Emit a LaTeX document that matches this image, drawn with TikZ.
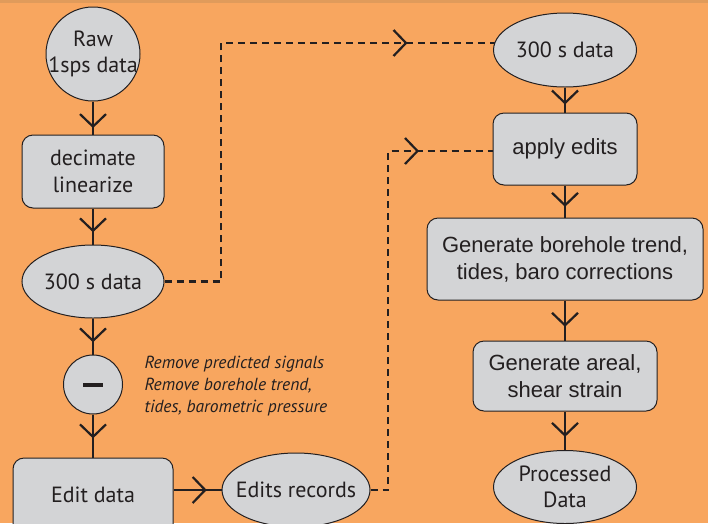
\documentclass[tikz,border=0pt]{standalone}
\usepackage{fontspec}
\setmainfont{PT Sans}
\newfontfamily\arialf{Liberation Sans}
\usetikzlibrary{decorations.markings,shapes.geometric,calc}
\pgfdeclarelayer{bglayer}
\pgfdeclarelayer{background}
\pgfsetlayers{bglayer,background,main}
\definecolor{bgorange}{HTML}{F8A65F}
\definecolor{stripe}{HTML}{E09B5B}
\definecolor{nodegray}{HTML}{D3D4D6}
\definecolor{ink}{HTML}{231F20}
\newcommand\chev{\pgfsetlinewidth{2.2pt}\pgfsetdash{}{0pt}\pgfsetstrokecolor{ink}\pgfpathmoveto{\pgfpoint{-12.5pt}{-13pt}}\pgfpathlineto{\pgfpointorigin}\pgfpathlineto{\pgfpoint{-12.5pt}{13pt}}\pgfusepath{stroke}}
\begin{document}
\begin{tikzpicture}[x=1pt,y=-1pt,
  box/.style={draw=ink,fill=nodegray,line width=1pt,rounded corners=11pt,inner sep=0pt,align=center,text=ink},
  oval/.style={draw=ink,fill=nodegray,line width=1pt,ellipse,inner xsep=-12pt,inner ysep=0pt,align=center,text=ink},
  disc/.style={draw=ink,fill=nodegray,line width=1pt,circle,inner xsep=-8pt,inner ysep=0pt,align=center,text=ink},
  myr/.style={font=\fontsize{22}{26.5}\selectfont},
  ari/.style={font=\arialf\fontsize{22}{27}\selectfont},
  flow/.style={draw=ink,line width=2.2pt,postaction={decorate,decoration={markings,mark=at position #1 with {\chev}}}},
  flow/.default=0.62,
  dashline/.style={draw=ink,line width=2.2pt,dash pattern=on 7pt off 5pt},
  dflow/.style={dashline,postaction={decorate,decoration={markings,mark=at position #1 with {\chev}}}},
]
\useasboundingbox (0,0) rectangle (708,523);
\begin{pgfonlayer}{bglayer}
\fill[bgorange] (0,0) rectangle (708,523);
\fill[stripe] (0,0) rectangle (708,3);
\end{pgfonlayer}

% left column
\node[disc,myr,minimum size=94pt] (raw) at (93,54) {Raw\\1sps data};
\node[box,myr,minimum width=142pt,minimum height=73pt] (dec) at (93,171.5) {decimate\\linearize};
\node[oval,myr,minimum width=142pt,minimum height=73pt] (l300) at (93,281.5) {300 s data};
\node[disc,minimum size=59pt] (minus) at (93,384.5) {};
\fill[ink] (83,382.5) rectangle (103,386.5);
\node[box,myr,minimum width=160pt,minimum height=84pt] (edit) at (93,500) {\raisebox{10pt}{Edit data}};
\node[oval,myr,minimum width=148pt,minimum height=74pt] (edits) at (296,490) {Edits records};

\node[anchor=west,align=left,text=ink,font=\itshape\fontsize{17.5}{22}\selectfont] (note) at (141,386) {Remove predicted signals\\Remove borehole trend,\\tides, barometric pressure};

% right column
\node[oval,myr,minimum width=143pt,minimum height=74pt] (r300) at (565,50) {300 s data};
\node[box,ari,minimum width=144pt,minimum height=72pt] (apply) at (565,149) {apply edits};
\node[box,ari,minimum width=276pt,minimum height=82pt] (gen) at (565,259) {Generate borehole trend,\\tides, baro corrections};
\node[box,ari,minimum width=184pt,minimum height=70pt] (areal) at (565,376) {Generate areal,\\shear strain};
\node[oval,myr,minimum width=143pt,minimum height=73pt] (proc) at (565,487) {Processed\\Data};

\coordinate (c1) at (221,281.5);
\coordinate (c2) at (221,43);
\coordinate (c3) at (388,490);
\coordinate (c4) at (388,151);

\begin{pgfonlayer}{background}
\path[flow=0.76] (raw.south) -- (dec.north);
\path[flow=0.62] (dec.south) -- (l300.north);
\path[flow=0.62] (l300.south) -- (minus.north);
\path[flow=0.52] (minus.south) -- (edit.north);
\path[flow=0.66] (edit.east |- edits.west) -- (edits.west);
\path[flow=0.62] (r300.south) -- (apply.north);
\path[flow=0.62] (apply.south) -- (gen.north);
\path[flow=0.62] (gen.south) -- (areal.north);
\path[flow=0.62] (areal.south) -- (proc.north);
\path[dflow=480pt] (l300.east) -- (c1) -- (c2) -- (r300.center |- c2);
\path[dflow=386pt] (edits.east) -- (c3) -- (c4) -- (apply.center |- c4);
\end{pgfonlayer}
\end{tikzpicture}
\end{document}
